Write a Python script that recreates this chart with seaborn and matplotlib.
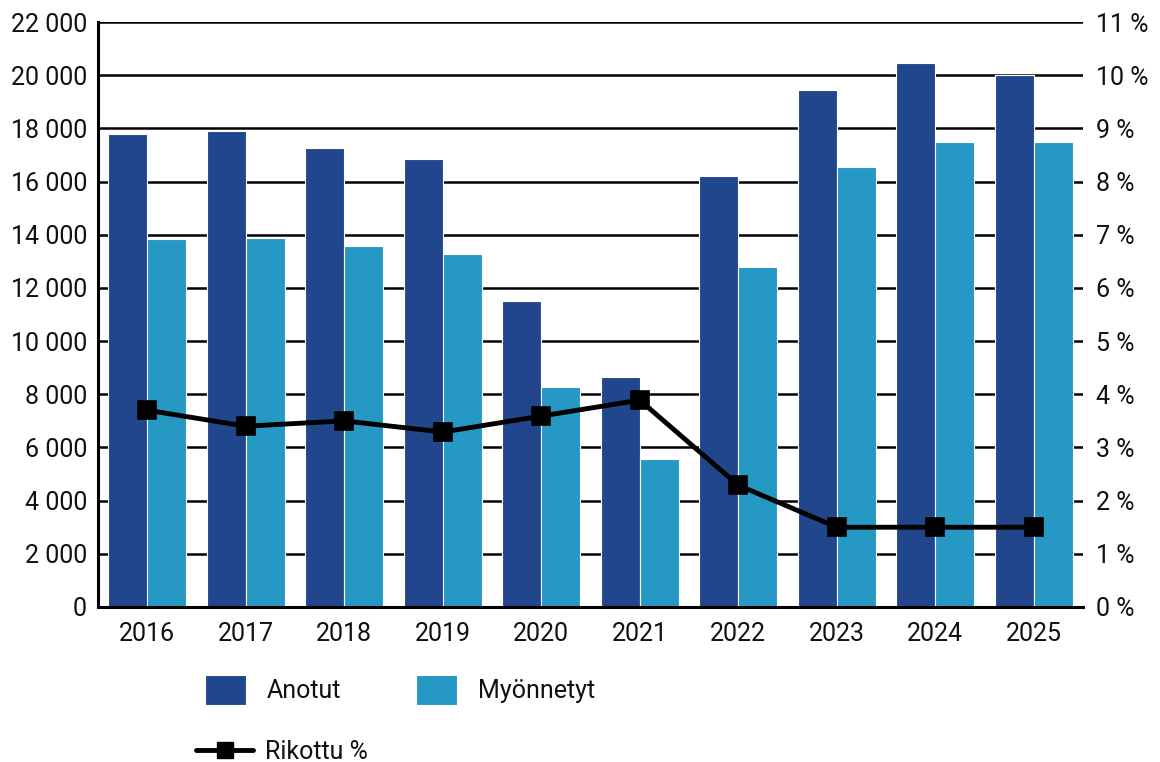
import matplotlib
matplotlib.use("Agg")
import matplotlib.pyplot as plt
import seaborn as sns
import pandas as pd
import numpy as np
from matplotlib.patches import Patch
from matplotlib.lines import Line2D
from matplotlib.ticker import FuncFormatter

years = ["2016", "2017", "2018", "2019", "2020", "2021", "2022", "2023", "2024", "2025"]
anotut = [17800, 17900, 17270, 16850, 11500, 8650, 16200, 19450, 20450, 20000]
myonnetyt = [13840, 13880, 13580, 13280, 8280, 5570, 12790, 16550, 17500, 17500]
rikottu = [3.70, 3.40, 3.50, 3.29, 3.59, 3.89, 2.29, 1.50, 1.50, 1.50]
series_names = ["Anotut", "Myönnetyt"]
line_name = "Rikottu %"
colors = ["#21468b", "#2698c4"]

sns.set_theme(style="white")
plt.rcParams["font.family"] = ["Roboto", "DejaVu Sans"]
plt.rcParams["text.color"] = "#111111"

df = pd.DataFrame({
    "Vuosi": years * 2,
    "Sarja": [series_names[0]] * len(years) + [series_names[1]] * len(years),
    "Määrä": anotut + myonnetyt,
})

fig = plt.figure(figsize=(11.6, 7.62), dpi=100)
ax = fig.add_axes([98 / 1160, 1 - 607 / 762, (1083 - 98) / 1160, (607 - 22) / 762])

sns.barplot(data=df, x="Vuosi", y="Määrä", hue="Sarja", order=years,
            hue_order=series_names, palette=colors, width=0.79,
            edgecolor="white", linewidth=0.8, saturation=1, ax=ax, legend=False)

ax.set_ylim(0, 22000)
ax.set_yticks(np.arange(0, 22001, 2000))
ax.yaxis.set_major_formatter(FuncFormatter(lambda v, p: f"{int(v):,}".replace(",", " ")))
ax.set_xlim(-0.5, len(years) - 0.5)
ax.grid(axis="y", color="black", linewidth=1.8)
ax.set_axisbelow(True)
ax.set_xlabel("")
ax.set_ylabel("")
for s in ["top", "right"]:
    ax.spines[s].set_visible(False)
ax.spines["left"].set_color("black")
ax.spines["left"].set_linewidth(2.2)
ax.spines["bottom"].set_color("black")
ax.spines["bottom"].set_linewidth(2.2)
ax.tick_params(axis="both", length=0, labelsize=18, colors="#111111")
ax.tick_params(axis="y", pad=8)
ax.tick_params(axis="x", pad=11)

ax2 = ax.twinx()
sns.pointplot(x=years, y=rikottu, order=years, color="black", markers="s",
              markersize=11, linewidth=3.5, errorbar=None, ax=ax2)
ax2.set_xlim(-0.5, len(years) - 0.5)
ax2.set_ylim(0, 11)
ax2.set_yticks(np.arange(0, 12, 1))
ax2.yaxis.set_major_formatter(FuncFormatter(lambda v, p: f"{int(v)} %"))
ax2.tick_params(axis="y", length=0, labelsize=18, colors="#111111", pad=9)
ax2.tick_params(axis="x", length=0)
for s in ["top", "right", "left", "bottom"]:
    ax2.spines[s].set_visible(False)
ax2.set_ylabel("")
ax2.set_xlabel("")

h_bars = [Patch(facecolor=colors[0], edgecolor="white", linewidth=0.8, label=series_names[0]),
          Patch(facecolor=colors[1], edgecolor="white", linewidth=0.8, label=series_names[1])]
leg1 = fig.legend(handles=h_bars, loc="center left", bbox_to_anchor=(205 / 1160, 1 - 690 / 762),
                  ncol=2, frameon=False, fontsize=18, handlelength=1.64, handleheight=1.48,
                  handletextpad=0.84, columnspacing=3.0, borderpad=0, borderaxespad=0)
h_line = [Line2D([0], [0], color="black", linewidth=3.5, marker="s", markersize=11, label=line_name)]
leg2 = fig.legend(handles=h_line, loc="center left", bbox_to_anchor=(196 / 1160, 1 - 752 / 762),
                  frameon=False, fontsize=18, handlelength=2.28, handletextpad=0.48,
                  borderpad=0, borderaxespad=0)

fig.savefig("out.png", dpi=100)
